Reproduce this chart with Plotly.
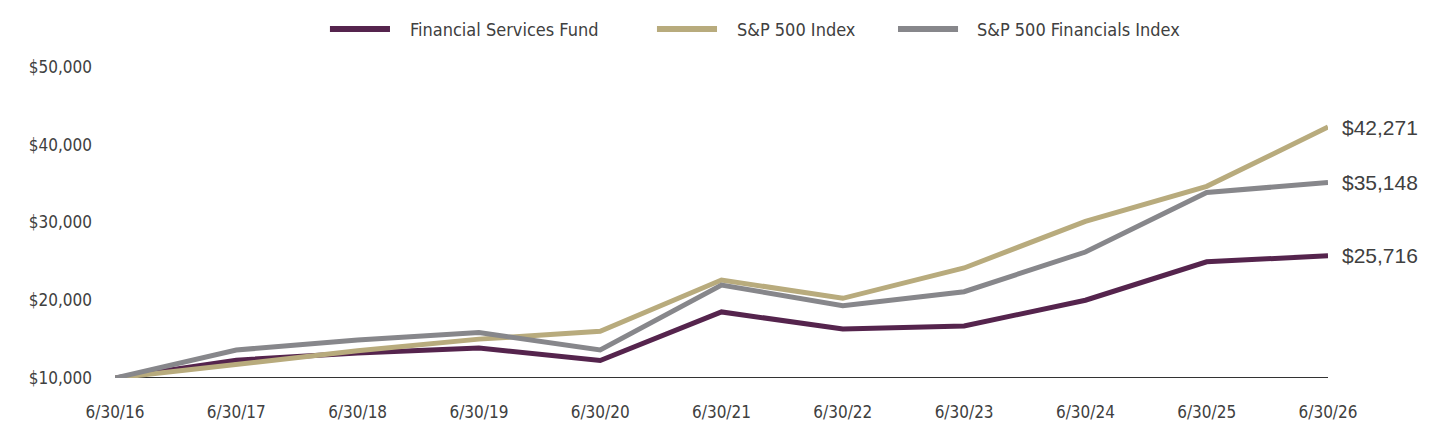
import plotly.graph_objects as go

dates = ["6/30/16", "6/30/17", "6/30/18", "6/30/19", "6/30/20", "6/30/21",
         "6/30/22", "6/30/23", "6/30/24", "6/30/25", "6/30/26"]

fund = [10000, 12300, 13200, 13850, 12250, 18500, 16300, 16700, 20000, 24950, 25716]
sp500 = [10000, 11700, 13500, 15000, 16000, 22600, 20250, 24150, 30150, 34650, 42271]
financials = [10000, 13600, 14900, 15850, 13600, 21950, 19300, 21100, 26200, 33850, 35148]

names = ["Financial Services Fund", "S&P 500 Index", "S&P 500 Financials Index"]
colors = ["#55244d", "#b8ab7d", "#87878b"]

y_ticks = [10000, 20000, 30000, 40000, 50000]
y_labels = ["$10,000", "$20,000", "$30,000", "$40,000", "$50,000"]

narrow = "DejaVu Sans Condensed, Liberation Sans Narrow, Arial Narrow, sans-serif"
text_col = "#404040"

fig = go.Figure()
for name, vals, color in zip(names, [fund, sp500, financials], colors):
    fig.add_trace(go.Scatter(
        x=dates, y=vals, name=name, mode="lines",
        line=dict(color=color, width=5),
    ))
    fig.add_annotation(
        x=dates[-1], y=vals[-1], text=f"${vals[-1]:,}",
        xanchor="left", yanchor="middle", xshift=12, showarrow=False,
        font=dict(family="Liberation Sans, Arial, sans-serif", size=21, color=text_col),
    )

# legend drawn by hand so the sample lines match the original's length
legend_pos = [(0.1772, 0.2267, 0.2416), (0.4468, 0.4963, 0.5111), (0.6455, 0.6950, 0.7090)]
leg_y = 1.122
for name, color, (x0, x1, xt) in zip(names, colors, legend_pos):
    fig.add_shape(type="line", xref="paper", yref="paper", x0=x0, x1=x1,
                  y0=leg_y, y1=leg_y, line=dict(color=color, width=6))
    fig.add_annotation(x=xt, y=leg_y, xref="paper", yref="paper", text=name,
                       xanchor="left", yanchor="middle", showarrow=False,
                       font=dict(family=narrow, size=18, color=text_col))

fig.update_layout(
    width=1424, height=428,
    margin=dict(l=107, r=104, t=59, b=58),
    paper_bgcolor="white", plot_bgcolor="white",
    font=dict(family=narrow, size=17, color=text_col),
    showlegend=False,
    xaxis=dict(
        type="category", showgrid=False, zeroline=False,
        showline=False, ticks="", range=[0, 10],
        tickfont=dict(family=narrow, size=17, color=text_col),
        ticklabelstandoff=22,
    ),
    yaxis=dict(
        range=[10000, 50000], tickvals=y_ticks, ticktext=y_labels,
        showgrid=False, zeroline=False, showline=False, ticks="",
        tickfont=dict(family=narrow, size=17, color=text_col),
        ticklabelstandoff=22,
    ),
)

fig.add_shape(type="line", xref="paper", yref="y", x0=0, x1=1, y0=10000, y1=10000,
              line=dict(color="#333333", width=2), layer="below")

fig.write_html("out.html")
